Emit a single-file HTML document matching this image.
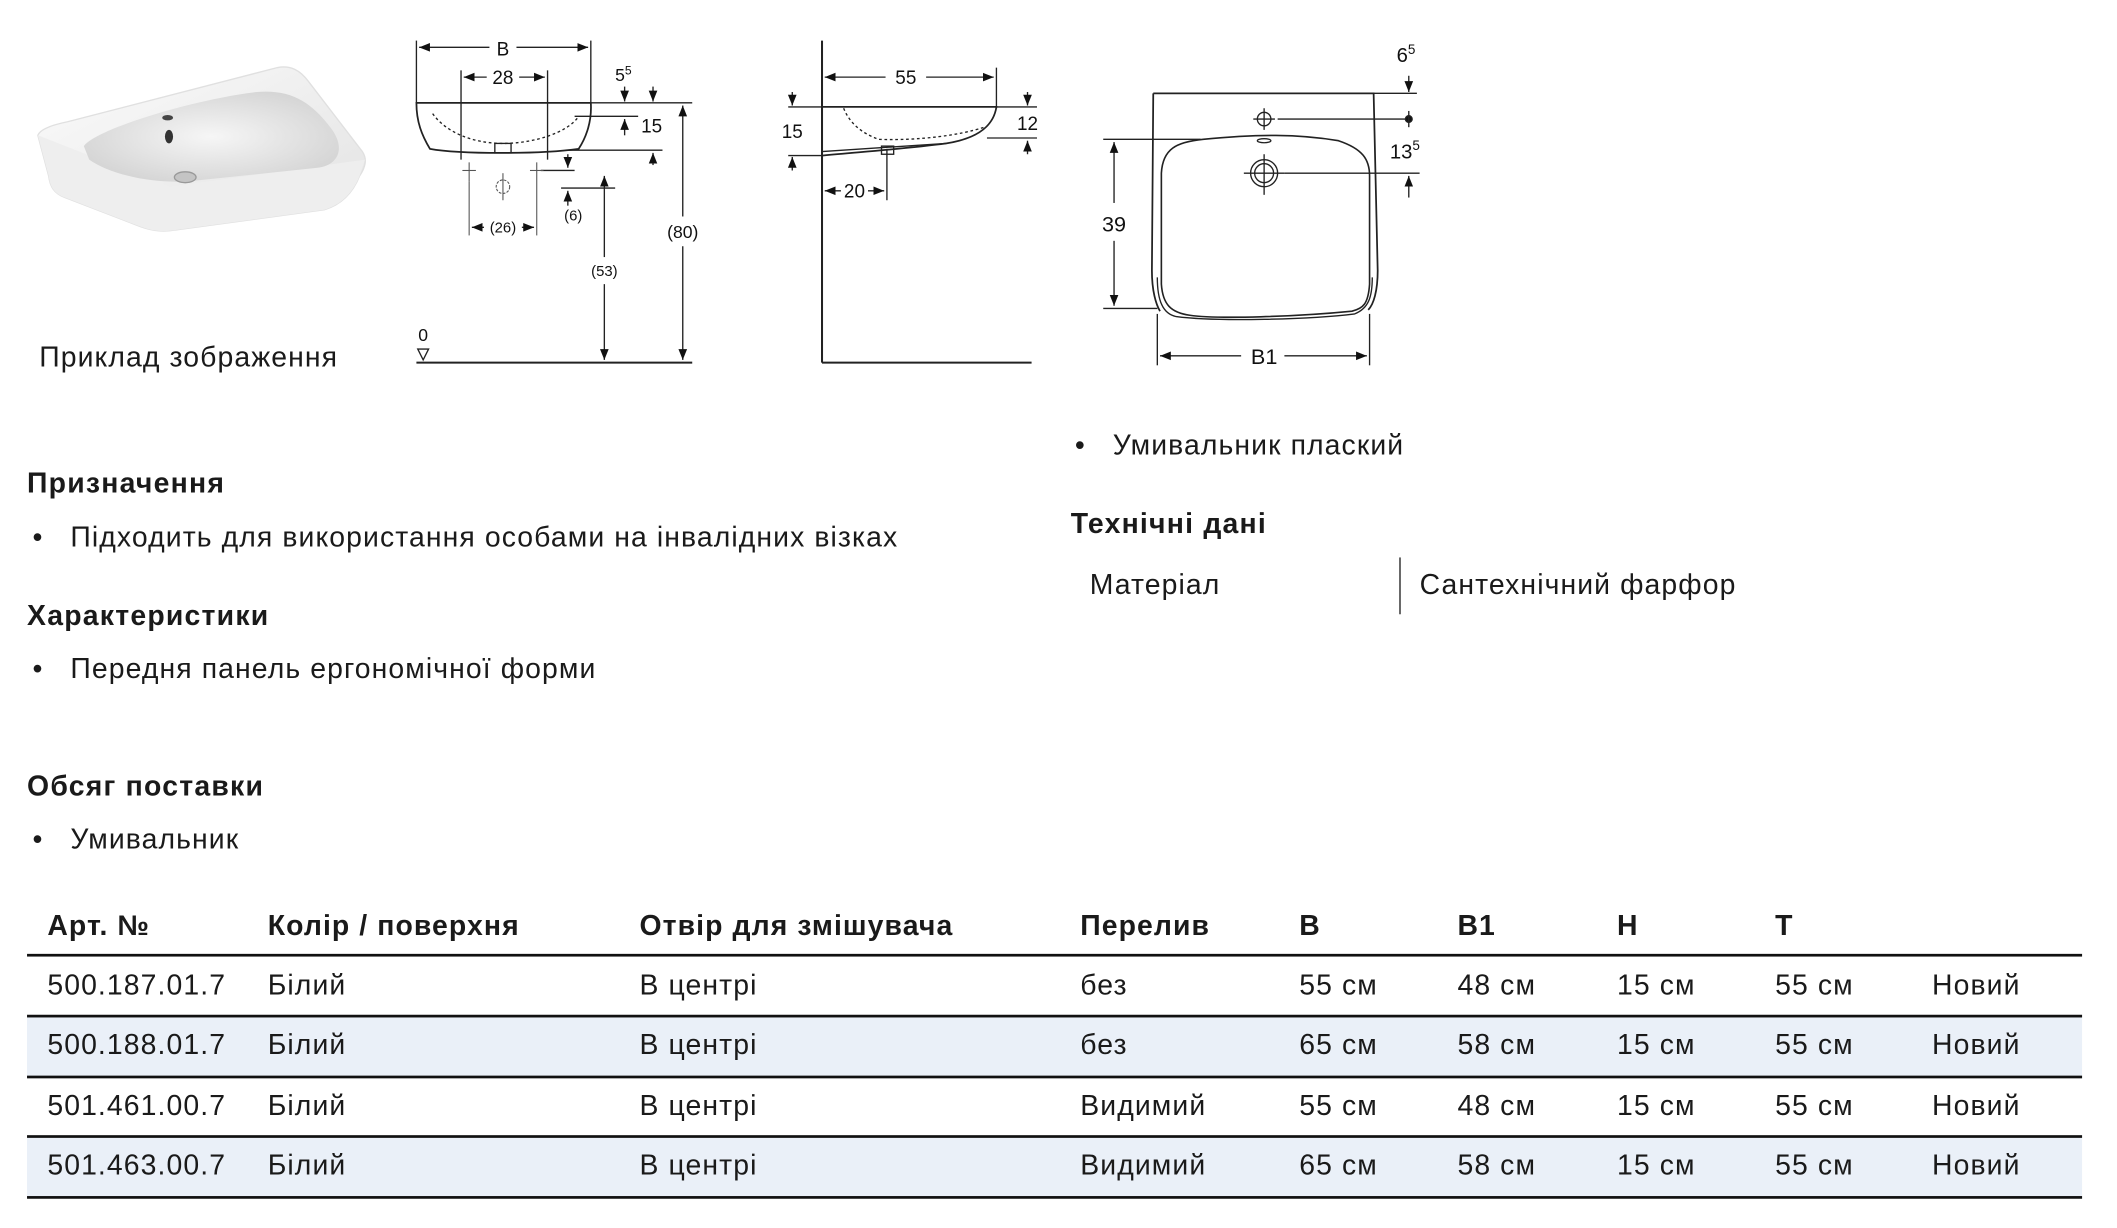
<!DOCTYPE html>
<html><head><meta charset="utf-8">
<style>
html,body{margin:0;padding:0;background:#fff;}
body{width:2117px;height:1228px;overflow:hidden;position:relative;}
#w{position:absolute;left:0;top:0;width:1560px;height:905px;transform:scale(1.352,1.353);transform-origin:0 0;font-family:"Liberation Sans",sans-serif;color:#1a1a1a;}
.t{position:absolute;white-space:nowrap;font-size:21px;line-height:1;letter-spacing:0.8px;}
.b{font-weight:bold;font-size:21px;letter-spacing:0.9px;}
.row{position:absolute;left:20px;width:1520px;height:44px;}
.bg{background:#eaf0f8;}
.ln{position:absolute;left:20px;width:1520px;height:2px;background:#111;}
</style></head><body><div id="w">
<svg width="1560" height="300" style="position:absolute;left:0;top:0" font-family="Liberation Sans, sans-serif" fill="none" stroke="#222" stroke-width="1">
<defs>
<marker id="a" viewBox="0 0 10 10" refX="10" refY="5" markerWidth="8" markerHeight="8" orient="auto-start-reverse"><path d="M0,1 L10,5 L0,9 z" fill="#111" stroke="none"/></marker>
<linearGradient id="g1" x1="0" y1="0" x2="1" y2="1"><stop offset="0" stop-color="#fbfbfb"/><stop offset="1" stop-color="#e2e2e2"/></linearGradient>
<radialGradient id="g2" cx="0.5" cy="0.5" r="0.6"><stop offset="0" stop-color="#f6f6f6"/><stop offset="1" stop-color="#d2d2d2"/></radialGradient>
</defs>
<!-- photo -->
<path d="M28,100 C30,95 40,92 50,90 L205,50 C215,48 222,52 228,60 L268,112 C272,118 270,124 266,130 C260,145 250,152 240,155 L130,170 C118,172 110,170 100,166 L48,146 C40,143 37,138 36,130 Z" fill="url(#g1)" stroke="#e0e0e0"/>
<path d="M28,100 L36,130 C37,138 40,143 48,146 L100,166 C110,170 118,172 130,170 L240,155 C250,152 260,145 266,130 L270,118 L125,138 Z" fill="#eeeeee" stroke="none"/>
<path d="M62,108 C70,96 140,74 190,68 C215,66 230,75 245,95 C256,110 250,122 235,124 L140,134 C110,136 80,128 66,118 Z" fill="url(#g2)" stroke="none"/>
<ellipse cx="124" cy="87" rx="4" ry="2" fill="#444" stroke="none"/>
<ellipse cx="125" cy="101" rx="3" ry="5" fill="#333" stroke="none"/>
<ellipse cx="137" cy="131" rx="8" ry="4" fill="#c4c4c4" stroke="#999"/>
<!-- front view -->
<line x1="308" y1="30" x2="308" y2="76"/><line x1="437" y1="30" x2="437" y2="76"/>
<line x1="310" y1="35" x2="362" y2="35" marker-start="url(#a)"/><line x1="382" y1="35" x2="435" y2="35" marker-end="url(#a)"/>
<text x="372" y="41" font-size="14" fill="#111" stroke="none" text-anchor="middle">B</text>
<line x1="341" y1="52" x2="341" y2="118"/><line x1="405" y1="52" x2="405" y2="118"/>
<line x1="343" y1="57" x2="360" y2="57" marker-start="url(#a)"/><line x1="384" y1="57" x2="403" y2="57" marker-end="url(#a)"/>
<text x="372" y="62" font-size="14" fill="#111" stroke="none" text-anchor="middle">28</text>
<text x="455" y="60" font-size="13" fill="#111" stroke="none">5<tspan font-size="9" dy="-5">5</tspan></text>
<line x1="462" y1="64" x2="462" y2="75" marker-end="url(#a)"/><line x1="483" y1="64" x2="483" y2="75" marker-end="url(#a)"/>
<path d="M308,76 L437,76 C438,92 432,104 428,110 C400,114 340,114 318,110 C312,100 308,90 308,76 Z" stroke-width="1.3"/>
<line x1="437" y1="76" x2="512" y2="76"/>
<path d="M320,84 C330,98 350,106 372,106 C395,106 420,98 428,86" stroke-dasharray="2,2"/>
<rect x="366" y="106" width="12" height="7"/>
<line x1="425" y1="86" x2="472" y2="86"/>
<line x1="462" y1="100" x2="462" y2="88" marker-end="url(#a)"/>
<text x="482" y="98" font-size="14" fill="#111" stroke="none" text-anchor="middle">15</text>
<line x1="420" y1="111" x2="490" y2="111"/>
<line x1="483" y1="122" x2="483" y2="113" marker-end="url(#a)"/>
<line x1="420" y1="114" x2="420" y2="124" marker-end="url(#a)"/>
<line x1="400" y1="126" x2="425" y2="126"/>
<line x1="415" y1="139" x2="455" y2="139"/>
<line x1="420" y1="152" x2="420" y2="141" marker-end="url(#a)"/>
<text x="424" y="163" font-size="11" fill="#111" stroke="none" text-anchor="middle">(6)</text>
<g stroke="#555" stroke-width="0.8"><line x1="347" y1="120" x2="347" y2="134"/><line x1="342" y1="126" x2="352" y2="126"/>
<line x1="397" y1="120" x2="397" y2="174"/><line x1="392" y1="126" x2="402" y2="126"/>
<circle cx="372" cy="138" r="5" stroke-dasharray="2,1"/><line x1="372" y1="128" x2="372" y2="148"/>
<line x1="347" y1="134" x2="347" y2="174"/></g>
<line x1="349" y1="168" x2="358" y2="168" marker-start="url(#a)"/><line x1="386" y1="168" x2="395" y2="168" marker-end="url(#a)"/>
<text x="372" y="172" font-size="11" fill="#111" stroke="none" text-anchor="middle">(26)</text>
<line x1="447" y1="130" x2="447" y2="190" marker-start="url(#a)"/><line x1="447" y1="210" x2="447" y2="266" marker-end="url(#a)"/>
<text x="447" y="204" font-size="11" fill="#111" stroke="none" text-anchor="middle">(53)</text>
<line x1="505" y1="78" x2="505" y2="160" marker-start="url(#a)"/><line x1="505" y1="182" x2="505" y2="266" marker-end="url(#a)"/>
<text x="505" y="176" font-size="13" fill="#111" stroke="none" text-anchor="middle">(80)</text>
<line x1="308" y1="268" x2="512" y2="268" stroke-width="1.5"/>
<text x="313" y="252" font-size="13" fill="#111" stroke="none" text-anchor="middle">0</text>
<path d="M309,258 L317,258 L313,266 Z"/>
<!-- side view -->
<line x1="608" y1="30" x2="608" y2="268" stroke-width="1.5"/><line x1="608" y1="268" x2="763" y2="268" stroke-width="1.5"/>
<line x1="737" y1="50" x2="737" y2="80"/>
<line x1="610" y1="57" x2="655" y2="57" marker-start="url(#a)"/><line x1="685" y1="57" x2="735" y2="57" marker-end="url(#a)"/>
<text x="670" y="62" font-size="14" fill="#111" stroke="none" text-anchor="middle">55</text>
<path d="M608,79 L737,79 C735,92 725,102 700,106 C670,110 640,112 608,115" stroke-width="1.3"/>
<path d="M624,80 C628,90 636,98 650,103 C680,104 710,100 728,94" stroke-dasharray="2,2"/>
<line x1="608" y1="112" x2="700" y2="106"/>
<rect x="652" y="108" width="9" height="6"/>
<line x1="737" y1="79" x2="767" y2="79"/><line x1="730" y1="102" x2="767" y2="102"/>
<line x1="760" y1="68" x2="760" y2="78" marker-end="url(#a)"/><line x1="760" y1="114" x2="760" y2="104" marker-end="url(#a)"/>
<text x="760" y="96" font-size="14" fill="#111" stroke="none" text-anchor="middle">12</text>
<line x1="583" y1="79" x2="608" y2="79"/><line x1="583" y1="115" x2="608" y2="115"/>
<line x1="586" y1="68" x2="586" y2="78" marker-end="url(#a)"/><line x1="586" y1="126" x2="586" y2="116" marker-end="url(#a)"/>
<text x="586" y="102" font-size="14" fill="#111" stroke="none" text-anchor="middle">15</text>
<line x1="656" y1="110" x2="656" y2="148"/>
<line x1="610" y1="141" x2="622" y2="141" marker-start="url(#a)"/><line x1="642" y1="141" x2="654" y2="141" marker-end="url(#a)"/>
<text x="632" y="146" font-size="14" fill="#111" stroke="none" text-anchor="middle">20</text>
<!-- top view -->
<path d="M853,69 L1016,69 L1019,200 C1019,215 1016,225 1012,229 M853,69 L852,200 C852,215 855,225 858,230" stroke-width="1.3"/>
<path d="M859,200 L859,128 C860,110 870,105 890,103 C930,99 960,99 990,104 C1008,110 1013,118 1013,130 L1013,210 C1012,225 1008,228 1000,230 C960,234 900,236 880,233 C866,231 860,225 859,210 Z" stroke-width="1.2"/>
<path d="M856,205 C856,222 860,232 870,234 C900,238 970,236 1002,232 C1012,228 1015,220 1015,205" />
<circle cx="935" cy="88" r="5"/><line x1="935" y1="80" x2="935" y2="96"/><line x1="927" y1="88" x2="943" y2="88"/>
<line x1="945" y1="88" x2="1040" y2="88"/><circle cx="1042" cy="88" r="2.5" fill="#111"/>
<line x1="1042" y1="82" x2="1042" y2="94"/>
<circle cx="935" cy="128" r="10"/><circle cx="935" cy="128" r="7"/>
<line x1="935" y1="114" x2="935" y2="144"/><line x1="920" y1="128" x2="950" y2="128"/>
<line x1="950" y1="128" x2="1050" y2="128"/>
<ellipse cx="935" cy="104" rx="5" ry="1.5"/>
<line x1="1016" y1="69" x2="1048" y2="69"/>
<line x1="1042" y1="56" x2="1042" y2="68" marker-end="url(#a)"/>
<line x1="1042" y1="146" x2="1042" y2="130" marker-end="url(#a)"/>
<text x="1033" y="46" font-size="15" fill="#111" stroke="none">6<tspan font-size="10" dy="-6">5</tspan></text>
<text x="1028" y="117" font-size="15" fill="#111" stroke="none">13<tspan font-size="10" dy="-6">5</tspan></text>
<line x1="816" y1="103" x2="888" y2="103"/><line x1="816" y1="228" x2="856" y2="228"/>
<line x1="824" y1="105" x2="824" y2="150" marker-start="url(#a)"/><line x1="824" y1="178" x2="824" y2="226" marker-end="url(#a)"/>
<text x="824" y="171" font-size="16" fill="#111" stroke="none" text-anchor="middle">39</text>
<line x1="856" y1="232" x2="856" y2="270"/><line x1="1013" y1="232" x2="1013" y2="270"/>
<line x1="858" y1="263" x2="918" y2="263" marker-start="url(#a)"/><line x1="950" y1="263" x2="1011" y2="263" marker-end="url(#a)"/>
<text x="935" y="269" font-size="16" fill="#111" stroke="none" text-anchor="middle">B1</text>
</svg>
<div class="t" style="left:29px;top:254px">Приклад зображення</div>
<div class="t" style="left:795px;top:319px">•&nbsp;&nbsp;&nbsp;Умивальник плаский</div>
<div class="t b" style="left:20px;top:347px">Призначення</div>
<div class="t" style="left:24px;top:387px">•&nbsp;&nbsp;&nbsp;Підходить для використання особами на інвалідних візках</div>
<div class="t b" style="left:792px;top:377px">Технічні дані</div>
<div class="t" style="left:806px;top:422px">Матеріал</div>
<div style="position:absolute;left:1035px;top:412px;width:1px;height:42px;background:#222"></div>
<div class="t" style="left:1050px;top:422px">Сантехнічний фарфор</div>
<div class="t b" style="left:20px;top:445px">Характеристики</div>
<div class="t" style="left:24px;top:484px">•&nbsp;&nbsp;&nbsp;Передня панель ергономічної форми</div>
<div class="t b" style="left:20px;top:571px">Обсяг поставки</div>
<div class="t" style="left:24px;top:610px">•&nbsp;&nbsp;&nbsp;Умивальник</div>
<div class="row bg" style="top:752px"></div>
<div class="row bg" style="top:841px"></div>
<div class="ln" style="top:705px"></div><div class="ln" style="top:750px"></div><div class="ln" style="top:795px"></div><div class="ln" style="top:839px"></div><div class="ln" style="top:884px"></div>
<div style="position:absolute;left:0;top:674px;font-weight:bold">
<span class="t" style="left:35px">Арт. №</span><span class="t" style="left:198px">Колір / поверхня</span><span class="t" style="left:473px">Отвір для змішувача</span><span class="t" style="left:799px">Перелив</span><span class="t" style="left:961px">B</span><span class="t" style="left:1078px">B1</span><span class="t" style="left:1196px">H</span><span class="t" style="left:1313px">T</span></div>
<div style="position:absolute;left:0;top:718px"><span class="t" style="left:35px">500.187.01.7</span><span class="t" style="left:198px">Білий</span><span class="t" style="left:473px">В центрі</span><span class="t" style="left:799px">без</span><span class="t" style="left:961px">55 см</span><span class="t" style="left:1078px">48 см</span><span class="t" style="left:1196px">15 см</span><span class="t" style="left:1313px">55 см</span><span class="t" style="left:1429px">Новий</span></div>
<div style="position:absolute;left:0;top:762px"><span class="t" style="left:35px">500.188.01.7</span><span class="t" style="left:198px">Білий</span><span class="t" style="left:473px">В центрі</span><span class="t" style="left:799px">без</span><span class="t" style="left:961px">65 см</span><span class="t" style="left:1078px">58 см</span><span class="t" style="left:1196px">15 см</span><span class="t" style="left:1313px">55 см</span><span class="t" style="left:1429px">Новий</span></div>
<div style="position:absolute;left:0;top:807px"><span class="t" style="left:35px">501.461.00.7</span><span class="t" style="left:198px">Білий</span><span class="t" style="left:473px">В центрі</span><span class="t" style="left:799px">Видимий</span><span class="t" style="left:961px">55 см</span><span class="t" style="left:1078px">48 см</span><span class="t" style="left:1196px">15 см</span><span class="t" style="left:1313px">55 см</span><span class="t" style="left:1429px">Новий</span></div>
<div style="position:absolute;left:0;top:851px"><span class="t" style="left:35px">501.463.00.7</span><span class="t" style="left:198px">Білий</span><span class="t" style="left:473px">В центрі</span><span class="t" style="left:799px">Видимий</span><span class="t" style="left:961px">65 см</span><span class="t" style="left:1078px">58 см</span><span class="t" style="left:1196px">15 см</span><span class="t" style="left:1313px">55 см</span><span class="t" style="left:1429px">Новий</span></div>
</div></body></html>
